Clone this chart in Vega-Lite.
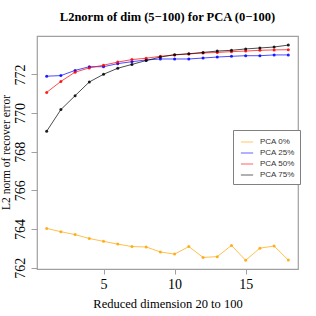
{
  "$schema": "https://vega.github.io/schema/vega-lite/v6.json",
  "autosize": "none",
  "width": 261,
  "height": 233,
  "padding": {"left": 37, "top": 36, "right": 18, "bottom": 47},
  "background": "white",
  "config": {
    "view": {"stroke": "#a0a0a0", "strokeWidth": 1.2},
    "font": "Liberation Serif"
  },
  "title": {
    "text": "L2norm of dim (5−100) for PCA (0−100)",
    "font": "Liberation Serif",
    "fontSize": 12.5,
    "fontWeight": "bold",
    "color": "black",
    "offset": 13,
    "anchor": "middle"
  },
  "data": {
    "values": [
      {"x": 1, "s": "PCA 0%", "v": 764.03},
      {"x": 2, "s": "PCA 0%", "v": 763.86},
      {"x": 3, "s": "PCA 0%", "v": 763.71},
      {"x": 4, "s": "PCA 0%", "v": 763.51},
      {"x": 5, "s": "PCA 0%", "v": 763.36},
      {"x": 6, "s": "PCA 0%", "v": 763.22},
      {"x": 7, "s": "PCA 0%", "v": 763.09},
      {"x": 8, "s": "PCA 0%", "v": 763.07},
      {"x": 9, "s": "PCA 0%", "v": 762.81},
      {"x": 10, "s": "PCA 0%", "v": 762.7},
      {"x": 11, "s": "PCA 0%", "v": 763.09},
      {"x": 12, "s": "PCA 0%", "v": 762.53},
      {"x": 13, "s": "PCA 0%", "v": 762.57},
      {"x": 14, "s": "PCA 0%", "v": 763.15},
      {"x": 15, "s": "PCA 0%", "v": 762.38},
      {"x": 16, "s": "PCA 0%", "v": 763.01},
      {"x": 17, "s": "PCA 0%", "v": 763.12},
      {"x": 18, "s": "PCA 0%", "v": 762.39},
      {"x": 1, "s": "PCA 25%", "v": 771.91},
      {"x": 2, "s": "PCA 25%", "v": 771.94},
      {"x": 3, "s": "PCA 25%", "v": 772.21},
      {"x": 4, "s": "PCA 25%", "v": 772.4},
      {"x": 5, "s": "PCA 25%", "v": 772.4},
      {"x": 6, "s": "PCA 25%", "v": 772.56},
      {"x": 7, "s": "PCA 25%", "v": 772.66},
      {"x": 8, "s": "PCA 25%", "v": 772.75},
      {"x": 9, "s": "PCA 25%", "v": 772.8},
      {"x": 10, "s": "PCA 25%", "v": 772.8},
      {"x": 11, "s": "PCA 25%", "v": 772.8},
      {"x": 12, "s": "PCA 25%", "v": 772.85},
      {"x": 13, "s": "PCA 25%", "v": 772.9},
      {"x": 14, "s": "PCA 25%", "v": 772.94},
      {"x": 15, "s": "PCA 25%", "v": 772.97},
      {"x": 16, "s": "PCA 25%", "v": 772.97},
      {"x": 17, "s": "PCA 25%", "v": 773.01},
      {"x": 18, "s": "PCA 25%", "v": 773.01},
      {"x": 1, "s": "PCA 50%", "v": 771.07},
      {"x": 2, "s": "PCA 50%", "v": 771.64},
      {"x": 3, "s": "PCA 50%", "v": 772.12},
      {"x": 4, "s": "PCA 50%", "v": 772.34},
      {"x": 5, "s": "PCA 50%", "v": 772.48},
      {"x": 6, "s": "PCA 50%", "v": 772.64},
      {"x": 7, "s": "PCA 50%", "v": 772.77},
      {"x": 8, "s": "PCA 50%", "v": 772.84},
      {"x": 9, "s": "PCA 50%", "v": 772.94},
      {"x": 10, "s": "PCA 50%", "v": 773.01},
      {"x": 11, "s": "PCA 50%", "v": 773.06},
      {"x": 12, "s": "PCA 50%", "v": 773.11},
      {"x": 13, "s": "PCA 50%", "v": 773.14},
      {"x": 14, "s": "PCA 50%", "v": 773.18},
      {"x": 15, "s": "PCA 50%", "v": 773.21},
      {"x": 16, "s": "PCA 50%", "v": 773.25},
      {"x": 17, "s": "PCA 50%", "v": 773.27},
      {"x": 18, "s": "PCA 50%", "v": 773.28},
      {"x": 1, "s": "PCA 75%", "v": 769.06},
      {"x": 2, "s": "PCA 75%", "v": 770.18},
      {"x": 3, "s": "PCA 75%", "v": 770.9},
      {"x": 4, "s": "PCA 75%", "v": 771.61},
      {"x": 5, "s": "PCA 75%", "v": 772.01},
      {"x": 6, "s": "PCA 75%", "v": 772.32},
      {"x": 7, "s": "PCA 75%", "v": 772.52},
      {"x": 8, "s": "PCA 75%", "v": 772.72},
      {"x": 9, "s": "PCA 75%", "v": 772.9},
      {"x": 10, "s": "PCA 75%", "v": 773.02},
      {"x": 11, "s": "PCA 75%", "v": 773.07},
      {"x": 12, "s": "PCA 75%", "v": 773.14},
      {"x": 13, "s": "PCA 75%", "v": 773.21},
      {"x": 14, "s": "PCA 75%", "v": 773.25},
      {"x": 15, "s": "PCA 75%", "v": 773.32},
      {"x": 16, "s": "PCA 75%", "v": 773.37},
      {"x": 17, "s": "PCA 75%", "v": 773.42},
      {"x": 18, "s": "PCA 75%", "v": 773.52}
    ]
  },
  "encoding": {
    "x": {
      "field": "x", "type": "quantitative",
      "scale": {"domain": [0.32, 18.68], "nice": false, "zero": false},
      "axis": {
        "values": [5, 10, 15],
        "title": "Reduced dimension 20 to 100",
        "titleFont": "Liberation Serif", "titleFontSize": 12.5, "titleFontWeight": "normal", "titleColor": "black",
        "titlePadding": 6,
        "labelFont": "Liberation Serif", "labelFontSize": 14, "labelColor": "black", "labelPadding": 3,
        "domain": false, "grid": false,
        "tickColor": "#a0a0a0", "tickSize": 5
      }
    },
    "y": {
      "field": "v", "type": "quantitative",
      "scale": {"domain": [761.93, 773.99], "nice": false, "zero": false},
      "axis": {
        "values": [762, 764, 766, 768, 770, 772],
        "title": "L2 norm of recover error",
        "titleFont": "Liberation Serif", "titleFontSize": 11.5, "titleFontWeight": "normal", "titleColor": "black",
        "titleX": -26, "titleY": 116, "titleAngle": -90, "titleAlign": "center", "titleBaseline": "bottom",
        "labelFont": "Liberation Serif", "labelFontSize": 14, "labelColor": "black",
        "labelAngle": -90, "labelAlign": "center", "labelBaseline": "bottom", "labelPadding": 4,
        "domain": false, "grid": false,
        "tickColor": "#a0a0a0", "tickSize": 6
      }
    },
    "color": {
      "field": "s", "type": "nominal",
      "scale": {"domain": ["PCA 0%", "PCA 25%", "PCA 50%", "PCA 75%"], "range": ["#ffa500", "#0000ff", "#ff0000", "#000000"]},
      "legend": {
        "title": null,
        "orient": "none", "legendX": 196, "legendY": 94,
        "symbolType": "stroke", "symbolStrokeWidth": 1.2, "symbolSize": 150, "symbolOpacity": 0.5,
        "labelFont": "Liberation Sans", "labelFontSize": 8, "labelColor": "#333", "labelOffset": 6,
        "rowPadding": 0, "symbolOffset": 2,
        "strokeColor": "#808080", "padding": 5, "fillColor": "white"
      }
    }
  },
  "layer": [
    {"mark": {"type": "line", "strokeWidth": 1, "opacity": 0.7}},
    {"mark": {"type": "point", "filled": true, "size": 9, "opacity": 0.85}}
  ]
}
